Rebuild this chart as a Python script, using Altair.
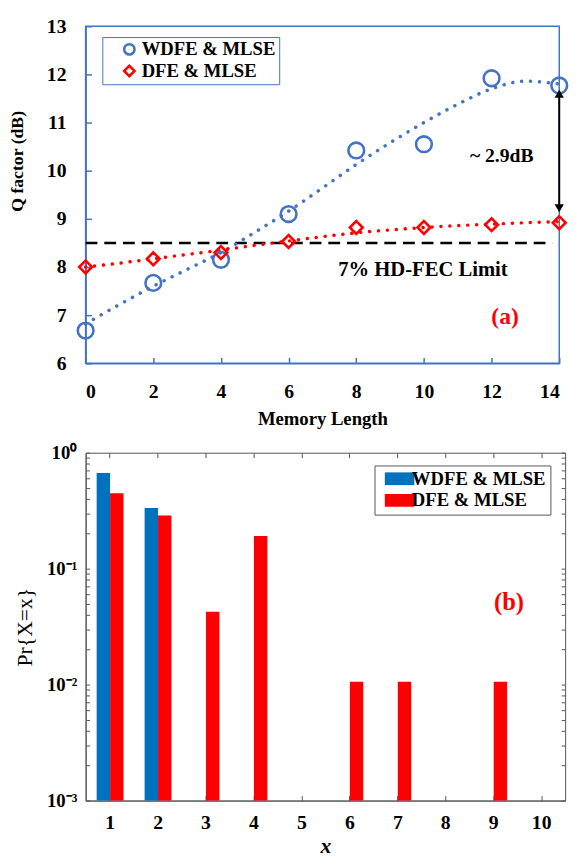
import altair as alt
import pandas as pd

# ---------------- Panel (a) data ----------------
series = ["WDFE & MLSE", "DFE & MLSE"]
memory_length = [0, 2, 4, 6, 8, 10, 12, 14]
q_wdfe = [6.68, 7.67, 8.15, 9.10, 10.42, 10.55, 11.92, 11.77]
q_dfe = [8.00, 8.17, 8.30, 8.53, 8.82, 8.82, 8.88, 8.92]
fit_x = [0, 1, 2, 3, 4, 5, 6, 7, 8, 9, 10, 11, 12, 13, 14]
fit_wdfe = [6.82, 7.22, 7.60, 7.95, 8.30, 8.72, 9.16, 9.64, 10.13, 10.58, 11.00, 11.38, 11.70, 11.86, 11.80]
fit_dfe = [8.00, 8.08, 8.17, 8.26, 8.35, 8.45, 8.54, 8.63, 8.71, 8.77, 8.82, 8.86, 8.89, 8.92, 8.94]
fec_limit = 8.5
fec_x = [0, 13.8]
arrow_x = 14
arrow_y = [9.22, 11.60]
texts_a = ["~ 2.9dB", "7% HD-FEC Limit", "(a)"]
texts_a_x = [12.3, 9.97, 12.4]
texts_a_y = [10.3, 7.93, 6.95]
texts_a_size = [20, 21, 24]

# ---------------- Panel (b) data ----------------
x_ticks_b = [1, 2, 3, 4, 5, 6, 7, 8, 9, 10]
wdfe_x = [1, 2]
pr_wdfe = [0.667, 0.333]
dfe_x = [1, 2, 3, 4, 6, 7, 9]
pr_dfe = [0.447, 0.287, 0.0426, 0.191, 0.0106, 0.0106, 0.0106]
y_ticks_b = [0.001, 0.002, 0.003, 0.004, 0.005, 0.006, 0.007, 0.008, 0.009,
             0.01, 0.02, 0.03, 0.04, 0.05, 0.06, 0.07, 0.08, 0.09,
             0.1, 0.2, 0.3, 0.4, 0.5, 0.6, 0.7, 0.8, 0.9, 1]

FONT = "Liberation Serif"
BLUE_A = "#4472C4"
RED = "#FF0000"
BLUE_B = "#0072BD"
GRAY = "#555555"

# ---------- Panel (a) ----------
pts = pd.DataFrame({
    "x": memory_length * 2,
    "q": q_wdfe + q_dfe,
    "s": [series[0]] * len(q_wdfe) + [series[1]] * len(q_dfe),
})
fit_w = pd.DataFrame({"x": fit_x, "q": fit_wdfe})
fit_d = pd.DataFrame({"x": fit_x, "q": fit_dfe})
fec = pd.DataFrame({"x": [fec_x[0]], "x2": [fec_x[1]], "y": [fec_limit]})
arrow = pd.DataFrame({"x": [arrow_x], "y": [arrow_y[0]], "y2": [arrow_y[1]]})
heads = pd.DataFrame({"x": [arrow_x, arrow_x], "y": arrow_y, "shape": ["triangle-down", "triangle-up"]})
txt_a = pd.DataFrame({"t": texts_a, "x": texts_a_x, "y": texts_a_y,
                      "c": ["black", "black", RED], "fs": texts_a_size})

xs_a = alt.Scale(domain=[0, 14], nice=False, zero=False)
ys_a = alt.Scale(domain=[6, 13], nice=False, zero=False)
x_axis_a = alt.Axis(values=memory_length, title="Memory Length", grid=False,
                    domainColor=BLUE_A, domainWidth=1.5, tickColor=BLUE_A, tickWidth=1.5,
                    tickSize={"expr": "-6"}, labelPadding=25, labelFontSize=20,
                    labelFontWeight="bold", labelFont=FONT, titleFont=FONT,
                    titleFontSize=19, titleFontWeight="bold", titlePadding=8)
y_axis_a = alt.Axis(values=[6, 7, 8, 9, 10, 11, 12, 13], title="Q factor (dB)", grid=False,
                    domainColor=BLUE_A, domainWidth=1.5, tickColor=BLUE_A, tickWidth=1.5,
                    tickSize={"expr": "-6"}, labelPadding=26, labelFontSize=20,
                    labelFontWeight="bold", labelFont=FONT, titleFont=FONT,
                    titleFontSize=18, titleFontWeight="bold", titlePadding=20,
                    titleX=-69, titleY=137, titleBaseline="middle")

X_A = alt.X("x:Q", scale=xs_a, axis=x_axis_a)
Y_A = alt.Y("q:Q", scale=ys_a, axis=y_axis_a)
color_a = alt.Scale(domain=series, range=[BLUE_A, RED])
shape_a = alt.Scale(domain=series, range=["circle", "diamond"])
legend_a = alt.Legend(
    title=None, orient="none", legendX=17, legendY=11, strokeColor=BLUE_A,
    fillColor="white", padding=3, labelFont=FONT, labelFontSize=19,
    labelFontWeight="bold", labelColor="black", symbolSize=110,
    symbolStrokeWidth=2.6, rowPadding=1, symbolOffset=15, labelOffset=3,
    labelExpr="datum.label + '\u2003\u2003\u2003'")

line_style = dict(strokeDash=[0.1, 9], strokeCap="round", strokeWidth=3.5, interpolate="monotone")
fit_line_w = alt.Chart(fit_w).mark_line(color=BLUE_A, **line_style).encode(x=X_A, y=Y_A)
fit_line_d = alt.Chart(fit_d).mark_line(color=RED, **line_style).encode(x=X_A, y=Y_A)


def point_layer(name, size):
    return alt.Chart(pts).transform_filter(alt.datum.s == name).mark_point(
        filled=False, strokeWidth=2.6, opacity=1, size=size).encode(
        x=X_A, y=Y_A,
        color=alt.Color("s:N", scale=color_a, legend=legend_a),
        shape=alt.Shape("s:N", scale=shape_a, legend=legend_a),
    )


points_w = point_layer(series[0], 256)
points_d = point_layer(series[1], 170)

fec_line = alt.Chart(fec).mark_rule(color="black", strokeWidth=2.5, strokeDash=[12, 7]).encode(
    x=alt.X("x:Q", scale=xs_a, axis=x_axis_a), x2="x2:Q",
    y=alt.Y("y:Q", scale=ys_a, axis=y_axis_a))
arrow_line = alt.Chart(arrow).mark_rule(color="black", strokeWidth=2).encode(
    x=alt.X("x:Q", scale=xs_a, axis=x_axis_a),
    y=alt.Y("y:Q", scale=ys_a, axis=y_axis_a), y2="y2:Q")
arrow_heads = alt.Chart(heads).mark_point(filled=True, color="black", size=90, opacity=1).encode(
    x=alt.X("x:Q", scale=xs_a, axis=x_axis_a),
    y=alt.Y("y:Q", scale=ys_a, axis=y_axis_a),
    shape=alt.Shape("shape:N", scale=None))
labels_a = alt.Chart(txt_a).mark_text(font=FONT, fontWeight="bold").encode(
    x=alt.X("x:Q", scale=xs_a, axis=x_axis_a),
    y=alt.Y("y:Q", scale=ys_a, axis=y_axis_a),
    text="t:N", color=alt.Color("c:N", scale=None), size=alt.Size("fs:Q", scale=None))

panel_a = alt.layer(fec_line, fit_line_w, fit_line_d, points_w, points_d,
                    arrow_line, arrow_heads, labels_a).properties(
    width=482, height=343, view=alt.ViewBackground(stroke=BLUE_A, strokeWidth=1.5))

# ---------- Panel (b) ----------
bars = pd.DataFrame({
    "x": wdfe_x + dfe_x,
    "p": pr_wdfe + pr_dfe,
    "s": [series[0]] * len(pr_wdfe) + [series[1]] * len(pr_dfe),
})
bars["x0"] = bars["x"] + bars["s"].map({series[0]: -0.27, series[1]: 0.01})
bars["x1"] = bars["x"] + bars["s"].map({series[0]: 0.01, series[1]: 0.29})
bars["base"] = 0.001

xs_b = alt.Scale(domain=[0.5, 10.5], nice=False, zero=False)
ys_b = alt.Scale(type="log", domain=[0.001, 1], nice=False)
label_expr = ("datum.value == 1 ? '10\u2070' : datum.value == 0.1 ? '10\u207b\u00b9' : "
              "datum.value == 0.01 ? '10\u207b\u00b2' : datum.value == 0.001 ? '10\u207b\u00b3' : ''")

x_axis_b = alt.Axis(values=x_ticks_b, title="x", grid=False, orient="bottom",
                    domainColor=GRAY, tickColor=GRAY, tickSize={"expr": "-5"},
                    labelPadding=17, labelFontSize=20, labelFontWeight="bold", labelFont=FONT,
                    titleFont=FONT, titleFontSize=22, titleFontStyle="italic",
                    titleFontWeight="bold", titlePadding=4)
y_axis_b = alt.Axis(values=y_ticks_b, title="Pr{X=x}", grid=False, orient="left",
                    domainColor=GRAY, tickColor=GRAY, tickSize={"expr": "-4"},
                    labelExpr=label_expr, labelPadding=13, labelFontSize=19,
                    labelFontWeight="bold", labelFont=FONT, titleFont=FONT,
                    titleFontSize=22, titleFontWeight="normal", titlePadding=6,
                    titleX=-62, titleBaseline="middle")
x_axis_b_top = alt.Axis(values=x_ticks_b, title="", grid=False, orient="top", labels=False,
                        domain=False, tickColor=GRAY, tickSize={"expr": "-5"})
y_axis_b_right = alt.Axis(values=y_ticks_b, title="", grid=False, orient="right", labels=False,
                          domain=False, tickColor=GRAY, tickSize={"expr": "-4"})

color_b = alt.Scale(domain=series, range=[BLUE_B, RED])
bar_layer = alt.Chart(bars).mark_rect().encode(
    x=alt.X("x0:Q", scale=xs_b, axis=x_axis_b),
    x2="x1:Q",
    y=alt.Y("p:Q", scale=ys_b, axis=y_axis_b),
    y2="base:Q",
    color=alt.Color("s:N", scale=color_b, legend=alt.Legend(
        title=None, orient="none", legendX=294, legendY=13, strokeColor=GRAY,
        fillColor="white", padding=4, labelFont=FONT, labelFontSize=19,
        labelFontWeight="bold", labelColor="black",
        symbolType="M-4,-1.73H4V1.73H-4Z", symbolSize=56.25, symbolStrokeWidth=0,
        symbolOffset=12, labelOffset=3, rowPadding=2,
        labelExpr="datum.label + '\u2002'")),
)
txt_b = pd.DataFrame({"t": ["(b)"], "x": [9.33], "y": [0.051]})
label_b = alt.Chart(txt_b).mark_text(font=FONT, fontSize=25, fontWeight="bold", color=RED).encode(
    x=alt.X("x:Q", scale=xs_b, axis=x_axis_b),
    y=alt.Y("y:Q", scale=ys_b, axis=y_axis_b), text="t:N")
mirror = alt.Chart(bars).mark_point(opacity=0).encode(
    x=alt.X("x0:Q", scale=xs_b, axis=x_axis_b_top),
    y=alt.Y("p:Q", scale=ys_b, axis=y_axis_b_right),
)

panel_b = alt.layer(alt.layer(bar_layer, label_b), mirror).resolve_axis(
    x="independent", y="independent").properties(
    width=488, height=354, view=alt.ViewBackground(stroke=GRAY, strokeWidth=1))

chart = alt.concat(panel_a, panel_b, columns=1, spacing=14, align="none").resolve_scale(
    color="independent", shape="independent", size="independent").properties(
    padding=0).configure_view(stroke=None).configure_axis(labelColor="black", titleColor="black")

chart.save("out.html", embed_options={"renderer": "svg", "actions": False})
